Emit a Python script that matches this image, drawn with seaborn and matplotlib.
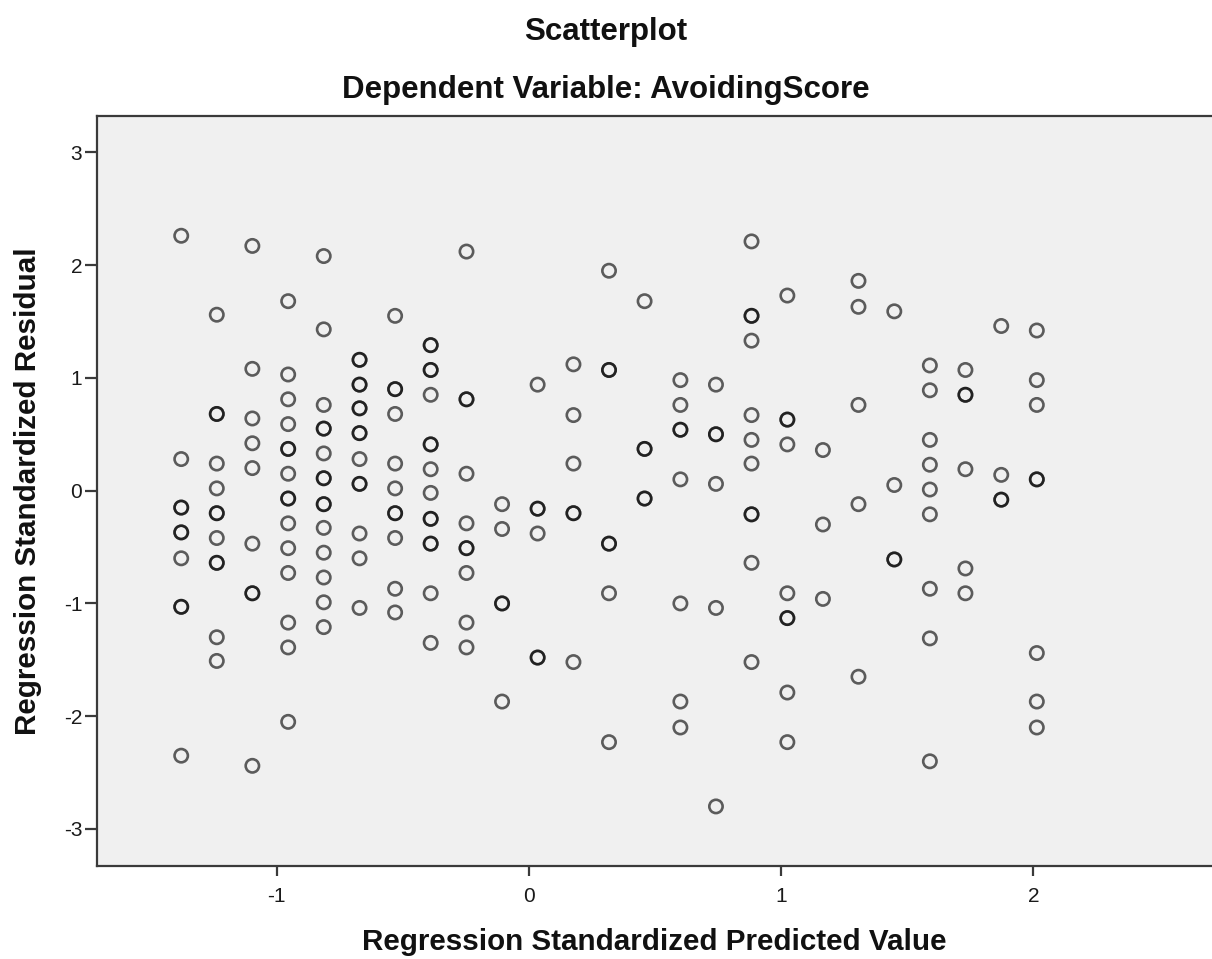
import matplotlib
matplotlib.use("Agg")
import matplotlib.pyplot as plt
import seaborn as sns
import pandas as pd

# ---------------- data ----------------
# Regression standardized predicted value of each point
predicted = (
    [-1.378] * 7 + [-1.237] * 9 + [-1.096] * 8 + [-0.954] * 13 + [-0.813] * 12 +
    [-0.671] * 9 + [-0.530] * 9 + [-0.389] * 10 + [-0.247] * 8 + [-0.106] * 4 +
    [0.035] * 4 + [0.177] * 5 + [0.318] * 5 + [0.459] * 3 + [0.601] * 7 +
    [0.742] * 5 + [0.883] * 9 + [1.025] * 7 + [1.166] * 3 + [1.307] * 5 +
    [1.449] * 3 + [1.590] * 9 + [1.731] * 5 + [1.873] * 3 + [2.014] * 7
)

# Regression standardized residual of each point
residual = [
    2.26, 0.28, -0.15, -0.37, -0.60, -1.03, -2.35,
    1.56, 0.68, 0.24, 0.02, -0.20, -0.42, -0.64, -1.30, -1.51,
    2.17, 1.08, 0.64, 0.42, 0.20, -0.47, -0.91, -2.44,
    1.68, 1.03, 0.81, 0.59, 0.37, 0.15, -0.07, -0.29, -0.51, -0.73, -1.17, -1.39, -2.05,
    2.08, 1.43, 0.76, 0.55, 0.33, 0.11, -0.12, -0.33, -0.55, -0.77, -0.99, -1.21,
    1.16, 0.94, 0.73, 0.51, 0.28, 0.06, -0.38, -0.60, -1.04,
    1.55, 0.90, 0.68, 0.24, 0.02, -0.20, -0.42, -0.87, -1.08,
    1.29, 1.07, 0.85, 0.41, 0.19, -0.02, -0.25, -0.47, -0.91, -1.35,
    2.12, 0.81, 0.15, -0.29, -0.51, -0.73, -1.17, -1.39,
    -0.12, -0.34, -1.00, -1.87,
    0.94, -0.16, -0.38, -1.48,
    1.12, 0.67, 0.24, -0.20, -1.52,
    1.95, 1.07, -0.47, -0.91, -2.23,
    1.68, 0.37, -0.07,
    0.98, 0.76, 0.54, 0.10, -1.00, -1.87, -2.10,
    0.94, 0.50, 0.06, -1.04, -2.80,
    2.21, 1.55, 1.33, 0.67, 0.45, 0.24, -0.21, -0.64, -1.52,
    1.73, 0.63, 0.41, -0.91, -1.13, -1.79, -2.23,
    0.36, -0.30, -0.96,
    1.86, 1.63, 0.76, -0.12, -1.65,
    1.59, 0.05, -0.61,
    1.11, 0.89, 0.45, 0.23, 0.01, -0.21, -0.87, -1.31, -2.40,
    1.07, 0.85, 0.19, -0.69, -0.91,
    1.46, 0.14, -0.08,
    1.42, 0.98, 0.76, 0.10, -1.44, -1.87, -2.10,
]

# number of cases drawn on top of each other at each point (darker rings)
overlap = [
    1, 1, 2, 2, 1, 2, 1,
    1, 2, 1, 1, 2, 1, 2, 1, 1,
    1, 1, 1, 1, 1, 1, 2, 1,
    1, 1, 1, 1, 2, 1, 2, 1, 1, 1, 1, 1, 1,
    1, 1, 1, 2, 1, 2, 2, 1, 1, 1, 1, 1,
    2, 2, 2, 2, 1, 2, 1, 1, 1,
    1, 2, 1, 1, 1, 2, 1, 1, 1,
    2, 2, 1, 2, 1, 1, 2, 2, 1, 1,
    1, 2, 1, 1, 2, 1, 1, 1,
    1, 1, 2, 1,
    1, 2, 1, 2,
    1, 1, 1, 2, 1,
    1, 2, 2, 1, 1,
    1, 2, 2,
    1, 1, 2, 1, 1, 1, 1,
    1, 2, 1, 1, 1,
    1, 2, 1, 1, 1, 1, 2, 1, 1,
    1, 2, 1, 1, 2, 1, 1,
    1, 1, 1,
    1, 1, 1, 1, 1,
    1, 1, 2,
    1, 1, 1, 1, 1, 1, 1, 1, 1,
    1, 2, 1, 1, 1,
    1, 1, 2,
    1, 1, 1, 2, 1, 1, 1,
]

title_line1 = "Scatterplot"
title_line2 = "Dependent Variable: AvoidingScore"
x_label = "Regression Standardized Predicted Value"
y_label = "Regression Standardized Residual"
x_ticks = [-1, 0, 1, 2]
y_ticks = [-3, -2, -1, 0, 1, 2, 3]

df = pd.DataFrame({"pred": predicted, "resid": residual, "n": overlap})
df = df.loc[df.index.repeat(df["n"])].reset_index(drop=True)

# ---------------- drawing ----------------
sns.set_style("ticks")
plt.rcParams["font.family"] = ["Liberation Sans", "DejaVu Sans"]

fig = plt.figure(figsize=(12.12, 9.59), dpi=100)
ax = fig.add_axes([0.0798, 0.0970, 0.9205, 0.7824])
ax.set_facecolor("#f0f0f0")

sns.scatterplot(data=df, x="pred", y="resid", ax=ax, marker="o", s=92,
                facecolors="none", edgecolor="black", linewidth=1.9,
                alpha=0.62, legend=False)
for coll in ax.collections:
    coll.set_facecolor("none")
    coll.set_edgecolor((0, 0, 0, 0.62))

ax.set_xlim(-1.713, 2.71)
ax.set_ylim(-3.328, 3.325)
ax.set_xticks(x_ticks)
ax.set_yticks(y_ticks)
ax.set_xticklabels([str(t) for t in x_ticks])
ax.set_yticklabels([str(t) for t in y_ticks])

for side in ["left", "bottom", "top"]:
    ax.spines[side].set_visible(True)
    ax.spines[side].set_color("#3a3a3a")
    ax.spines[side].set_linewidth(1.6)
ax.spines["right"].set_visible(False)

ax.tick_params(axis="both", direction="out", width=1.6,
               color="#3a3a3a", labelsize=15, labelcolor="#1a1a1a")
ax.tick_params(axis="x", length=7, pad=8)
ax.tick_params(axis="y", length=8.5, pad=2)

ax.set_xlabel(x_label, fontsize=21.3, fontweight="bold", color="#111111")
ax.set_ylabel(y_label, fontsize=21.3, fontweight="bold", color="#111111")
ax.xaxis.label.set_va("center")
ax.yaxis.label.set_va("center")
ax.xaxis.set_label_coords(0.5, (866 - 942) / 750.3)
ax.yaxis.set_label_coords((28 - 96.7) / 1115.3, 0.5)

fig.text(0.5, 1 - 32 / 959, title_line1, ha="center", va="center",
         fontsize=22.5, fontweight="bold", color="#111111")
fig.text(0.5, 1 - 90 / 959, title_line2, ha="center", va="center",
         fontsize=22.5, fontweight="bold", color="#111111")

fig.savefig("out.png", dpi=100, facecolor="white")
